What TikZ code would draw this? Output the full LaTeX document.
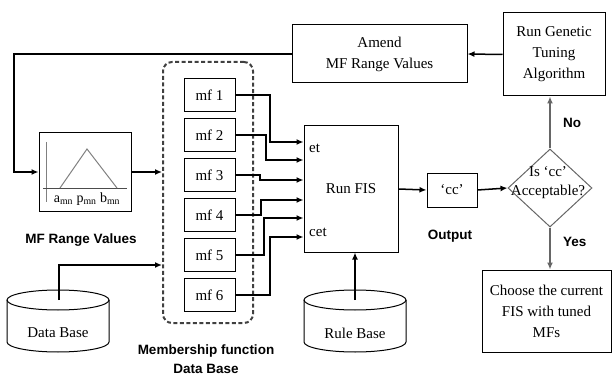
\documentclass[tikz,border=0pt]{standalone}
\usepackage{fontspec}
\setmainfont{Liberation Serif}
\newfontfamily\tagfont{Liberation Sans}
\usetikzlibrary{shapes.geometric,arrows.meta}

\tikzset{
  box/.style={draw, line width=1pt, inner sep=0pt, align=center},
  arr/.style={line width=1.5pt, -{Latex[length=7pt,width=6pt]}},
  tag/.style={font=\tagfont\bfseries\fontsize{13.5}{19}\selectfont, align=center},
  dbline/.style={line width=1pt},
}

\begin{document}
\begin{tikzpicture}[x=1pt, y=-1pt, font=\fontsize{15}{21}\selectfont]
  \useasboundingbox (0,0) rectangle (613,377);

  \node[box, minimum width=175, minimum height=58] (amend) at (379.5,54) {Amend\\MF Range Values};
  \node[box, minimum width=102, minimum height=83] (genetic) at (554,54.5) {Run Genetic\\Tuning\\Algorithm};

  % membership function range box
  \node[box, minimum width=92, minimum height=78] (mfrange) at (85,172) {};
  \draw[gray, line width=1pt] (46,142) -- (46,202);
  \draw[black!70, line width=0.8pt] (43,188) -- (127,188);
  \draw[gray, line width=1pt] (60,188) -- (87,149) -- (117,188);
  \node[font=\fontsize{14}{16}\selectfont] (mnlabels) at (87,199) {a\textsubscript{mn} p\textsubscript{mn} b\textsubscript{mn}};
  \node[tag] (mfrangetag) at (81,240) {MF Range Values};

  % data base of membership functions
  \node[draw=black!75, dash pattern=on 4pt off 2.5pt, line width=2pt, rounded corners=9pt,
        minimum width=90, minimum height=261, inner sep=0pt] (mfdb) at (208,192.5) {};
  \foreach \i in {1,...,6}
    \node[box, fill=white, minimum width=51, minimum height=33] (mf\i) at (209.5,{55+40*\i}) {mf \i};
  \node[tag, inner sep=0pt] (mfdbtag) at (206,359) {Membership function\\Data Base};

  \node[box, minimum width=94, minimum height=126] (fis) at (351,189) {Run FIS};
  \node[anchor=west, inner sep=0pt] (et) at (309,148) {et};
  \node[anchor=west, inner sep=0pt] (cet) at (309,232) {cet};

  \node[box, minimum width=50, minimum height=34] (cc) at (452,190) {`cc'};
  \node[tag] (outtag) at (450,236) {Output};

  \node[draw=black!60, line width=1pt, diamond, minimum width=84, minimum height=78, inner sep=0pt] (accept) at (550,188) {};
  \node[align=center, font=\fontsize{15}{19}\selectfont] (accepttext) at (548,183) {Is `cc'\\Acceptable?};

  \node[box, minimum width=129, minimum height=82] (choose) at (546.5,311) {Choose the current\\FIS with tuned\\MFs};

  % data base cylinder
  \draw[dbline] (58,300) ellipse [x radius=51pt, y radius=10pt];
  \draw[dbline] (7,300) -- (7,342) arc[start angle=180, end angle=360, x radius=51pt, y radius=10pt] -- (109,300);
  \node (database) at (58,333) {Data Base};
  \coordinate (dbtop) at (59,300);

  % rule base cylinder
  \draw[dbline] (355,300) ellipse [x radius=51pt, y radius=10pt];
  \draw[dbline] (304,300) -- (304,342) arc[start angle=180, end angle=360, x radius=51pt, y radius=10pt] -- (406,300);
  \node (rulebase) at (355,333) {Rule Base};
  \coordinate (rbtop) at (355,300);

  % connectors
  \draw[arr] (amend.west) -- (14,54) |- (mfrange.west);
  \draw[arr] (mfrange.east) -- (mfrange.east -| mfdb.west);
  \draw[arr] (dbtop) |- (mfdb.west |- 0,265);
  \foreach \i/\xj/\yin in {1/270/142, 2/266/160, 3/260/180, 4/261/200, 5/264/218, 6/270/237}
    \draw[arr] (mf\i.east) -| (\xj,\yin) -- (fis.west |- 0,\yin);
  \draw[arr] (rbtop) -- (rbtop |- fis.south);
  \draw[arr] (fis.east) -- (cc.west);
  \draw[arr] (cc.east) -- (accept.west);
  \draw[arr, draw=black!60] (accept.north) -- (accept.north |- genetic.south)
    node[tag, text=black, right=9pt, pos=0.5] {No};
  \draw[arr] (genetic.west) -- (amend.east);
  \draw[arr, draw=black!60] (accept.south) -- (accept.south |- choose.north)
    node[tag, text=black, right=9pt, pos=0.35] {Yes};
\end{tikzpicture}
\end{document}
